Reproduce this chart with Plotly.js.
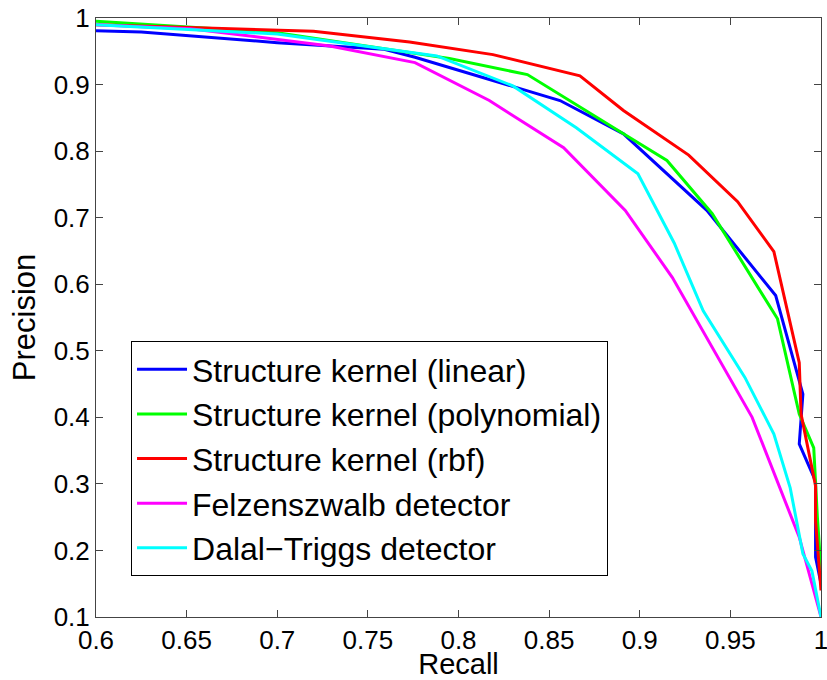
<!DOCTYPE html>
<html>
<head>
<meta charset="utf-8">
<script src="https://cdn.plot.ly/plotly-3.0.1.min.js"></script>
<style>html,body{margin:0;padding:0;background:#fff;}#chart{width:827px;height:680px;}</style>
</head>
<body>
<div id="chart"></div>
<script>
// Series names
const seriesNames = [
  "Structure kernel (linear)",
  "Structure kernel (polynomial)",
  "Structure kernel (rbf)",
  "Felzenszwalb detector",
  "Dalal\u2212Triggs detector"
];
const seriesColors = ["#0000ff", "#00ff00", "#ff0000", "#ff00ff", "#00ffff"];

// Recall / precision values
const linearRecall    = [0.600, 0.625, 0.700, 0.759, 0.776, 0.856, 0.891, 0.937, 0.975, 0.990, 0.988, 0.997, 0.997, 1.000];
const linearPrecision = [0.981, 0.979, 0.963, 0.953, 0.941, 0.876, 0.826, 0.711, 0.583, 0.435, 0.360, 0.304, 0.190, 0.150];

const polyRecall      = [0.600, 0.700, 0.795, 0.838, 0.891, 0.915, 0.940, 0.976, 0.988, 0.996, 0.998, 1.000];
const polyPrecision   = [0.995, 0.978, 0.939, 0.915, 0.826, 0.786, 0.706, 0.548, 0.405, 0.354, 0.250, 0.170];

const rbfRecall       = [0.600, 0.720, 0.773, 0.819, 0.867, 0.891, 0.927, 0.954, 0.974, 0.988, 0.989, 0.997, 0.997, 1.000];
const rbfPrecision    = [0.990, 0.980, 0.964, 0.945, 0.913, 0.861, 0.794, 0.724, 0.649, 0.482, 0.405, 0.297, 0.244, 0.140];

const felzRecall      = [0.600, 0.652, 0.729, 0.776, 0.817, 0.858, 0.892, 0.918, 0.962, 0.988, 1.000];
const felzPrecision   = [0.990, 0.984, 0.958, 0.933, 0.876, 0.805, 0.711, 0.610, 0.400, 0.220, 0.100];

const dalalRecall     = [0.600, 0.700, 0.788, 0.830, 0.865, 0.899, 0.919, 0.935, 0.958, 0.974, 0.983, 0.990, 0.995, 1.000];
const dalalPrecision  = [0.990, 0.976, 0.943, 0.898, 0.835, 0.766, 0.662, 0.560, 0.460, 0.375, 0.294, 0.195, 0.169, 0.100];

// Tick labels
const xTickVals = [0.6, 0.65, 0.7, 0.75, 0.8, 0.85, 0.9, 0.95, 1];
const xTickText = ["0.6", "0.65", "0.7", "0.75", "0.8", "0.85", "0.9", "0.95", "1"];
const yTickVals = [0.1, 0.2, 0.3, 0.4, 0.5, 0.6, 0.7, 0.8, 0.9, 1];
const yTickText = ["0.1", "0.2", "0.3", "0.4", "0.5", "0.6", "0.7", "0.8", "0.9", "1"];

const xs = [linearRecall, polyRecall, rbfRecall, felzRecall, dalalRecall];
const ys = [linearPrecision, polyPrecision, rbfPrecision, felzPrecision, dalalPrecision];

const traces = seriesNames.map((name, i) => ({
  x: xs[i], y: ys[i], name: name, type: "scatter", mode: "lines",
  line: {color: seriesColors[i], width: 3}
}));

const fontFam = "Arial, 'Liberation Sans', Helvetica, sans-serif";
const axisCommon = {
  showgrid: false, zeroline: false, showline: true, linecolor: "#444", linewidth: 1,
  mirror: "ticks", ticks: "inside", ticklen: 7, tickcolor: "#444", tickwidth: 1,
  tickfont: {family: fontFam, size: 26, color: "#000"}, ticklabeloverflow: "allow"
};

const layout = {
  width: 827, height: 680,
  margin: {l: 96, r: 6, t: 18, b: 63},
  paper_bgcolor: "#fff", plot_bgcolor: "#fff",
  showlegend: true,
  xaxis: Object.assign({}, axisCommon, {
    range: [0.6, 1], tickmode: "array", tickvals: xTickVals, ticktext: xTickText,
    title: {text: "Recall", font: {family: fontFam, size: 29, color: "#000"}, standoff: 5}
  }),
  yaxis: Object.assign({}, axisCommon, {
    range: [0.1, 1], tickmode: "array", tickvals: yTickVals, ticktext: yTickText,
    title: {text: "Precision", font: {family: fontFam, size: 31, color: "#000"}, standoff: 8}
  }),
  legend: {
    x: 0.0483, y: 0.4607, xanchor: "left", yanchor: "top",
    bgcolor: "#fff", bordercolor: "#000", borderwidth: 1,
    font: {family: fontFam, size: 32, color: "#000"},
    itemwidth: 50, traceorder: "normal"
  }
};

Plotly.newPlot("chart", traces, layout, {displayModeBar: false, staticPlot: true});
</script>
</body>
</html>
